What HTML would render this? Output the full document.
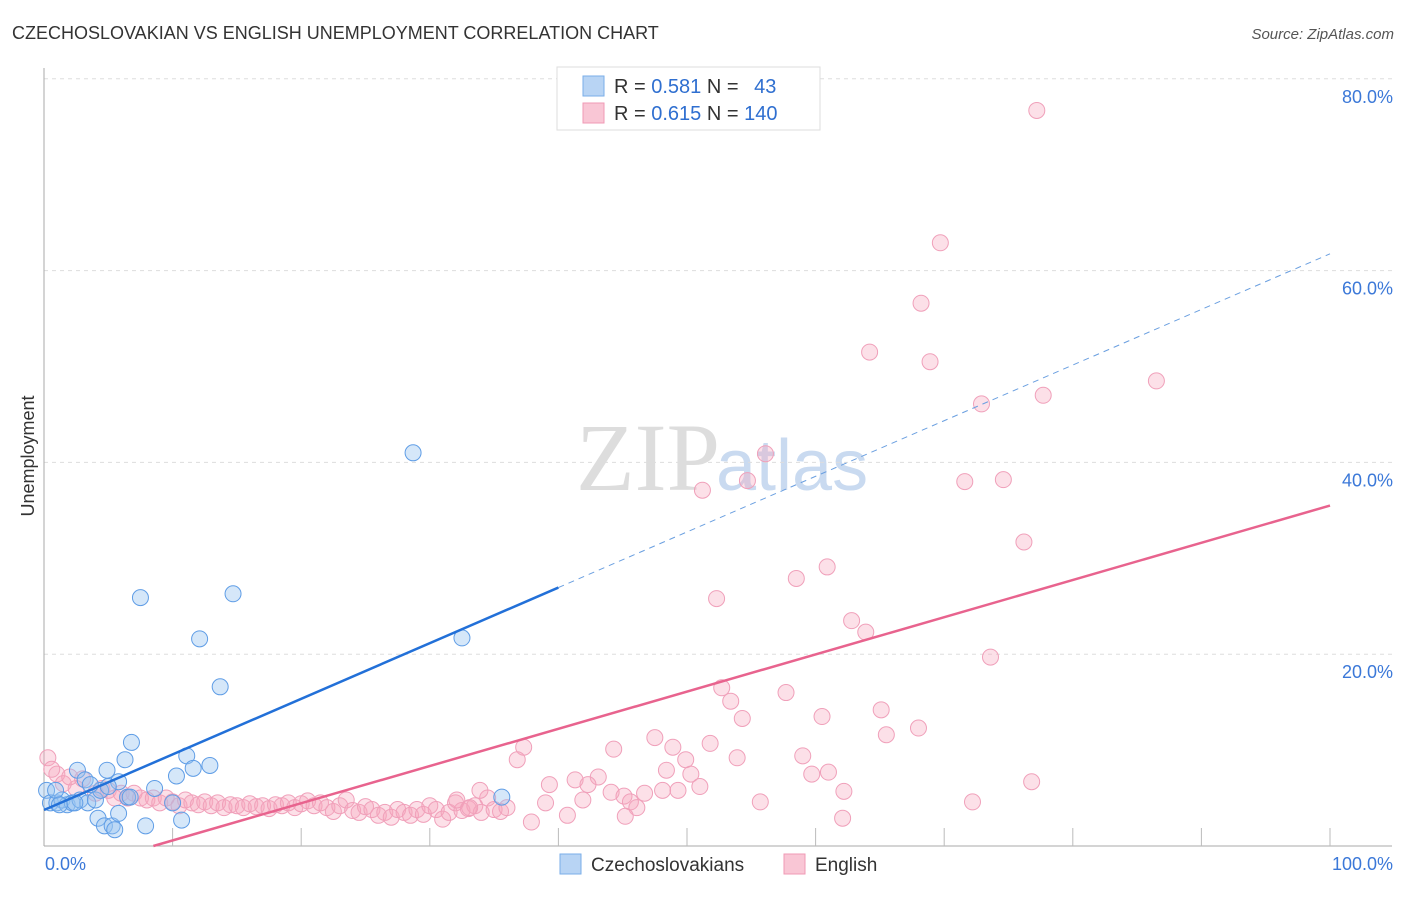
<!DOCTYPE html>
<html><head><meta charset="utf-8"><style>
body{margin:0;background:#fff;font-family:"Liberation Sans",sans-serif}
</style></head><body>
<svg id="c" width="1406" height="892" xmlns="http://www.w3.org/2000/svg" style="font-family:'Liberation Sans',sans-serif">
<text x="12" y="39" font-size="18" fill="#333">CZECHOSLOVAKIAN VS ENGLISH UNEMPLOYMENT CORRELATION CHART</text>
<text x="1394" y="39" font-size="15" fill="#555" text-anchor="end" font-style="italic">Source: ZipAtlas.com</text>
<text x="34" y="456" font-size="18" fill="#333" text-anchor="middle" transform="rotate(-90 34 456)">Unemployment</text>
<text x="720" y="490" font-size="96" fill="#ddd" text-anchor="end" font-family="Liberation Serif">ZIP</text>
<text x="716" y="490" font-size="72" fill="#c9daf0">atlas</text>
<g id="grid"></g><g id="pts"></g><g id="lines"></g>
<g>
<rect x="557" y="67" width="263" height="63" fill="#fff" stroke="#ddd"/>
<rect x="583" y="76" width="21" height="20" fill="#b8d4f4" stroke="#7aaee8"/>
<rect x="583" y="103" width="21" height="20" fill="#f9c6d5" stroke="#f09ab5"/>
<text x="614" y="93" font-size="20" fill="#333">R = <tspan fill="#2f6fd0">0.581</tspan>   N =  <tspan fill="#2f6fd0" dx="10">43</tspan></text>
<text x="614" y="120" font-size="20" fill="#333">R = <tspan fill="#2f6fd0">0.615</tspan>   N = <tspan fill="#2f6fd0">140</tspan></text>
</g>
<text x="45" y="870" font-size="18" fill="#3b78d8">0.0%</text>
<text x="1393" y="870" font-size="18" fill="#3b78d8" text-anchor="end">100.0%</text>
<g>
<rect x="560" y="854" width="21" height="20" fill="#b8d4f4" stroke="#7aaee8"/>
<text x="591" y="871" font-size="19" fill="#333">Czechoslovakians</text>
<rect x="784" y="854" width="21" height="20" fill="#f9c6d5" stroke="#f09ab5"/>
<text x="815" y="871" font-size="19" fill="#333">English</text>
</g>
</svg>
<script>
const yTicks=[20,40,60,80];
const blueX=[0.2,0.5,1.0,1.4,1.8,2.2,2.6,2.8,3.2,3.4,4.0,4.2,4.4,4.7,4.9,5.3,5.5,5.8,5.8,6.3,6.5,6.8,7.5,7.9,8.6,10.0,10.3,10.7,11.1,11.6,12.1,12.9,13.7,14.7,28.7,32.5,35.6,0.9,1.2,3.6,5.0,6.7,2.4];
const blueY=[5.8,4.5,4.5,4.8,4.3,4.5,7.9,4.8,6.9,4.5,4.8,2.9,5.8,2.1,7.9,2.1,1.7,3.4,6.7,9.0,5.1,10.8,25.9,2.1,6.0,4.5,7.3,2.7,9.4,8.1,21.6,8.4,16.6,26.3,41.0,21.7,5.1,5.8,4.3,6.4,6.2,5.1,4.5];
const pinkX=[1,1.5,2.5,3,4,4.5,5,5.5,6,6.5,7,7.5,8,8.5,9,9.5,10,10.5,11,11.5,12,12.5,13,13.5,14,14.5,15,15.5,16,16.5,17,17.5,18,18.5,19,19.5,20,20.5,21,21.5,22,22.5,23,23.5,24,24.5,25,25.5,26,26.5,27,27.5,28,28.5,29,29.5,30,30.5,31,31.5,32,32.5,33,33.5,34,34.5,35,35.5,36,0.3,0.6,2,
77.2,69.7,68.2,64.2,68.9,86.5,77.7,72.9,56.1,51.2,54.7,71.6,74.6,76.2,58.5,60.9,52.3,62.8,63.9,73.6,52.7,53.4,57.7,54.3,60.5,65.1,68.0,65.5,37.3,36.8,44.3,47.5,48.9,51.8,49.9,53.9,59.0,48.4,50.3,59.7,61.0,39.3,41.3,43.1,42.3,44.1,45.1,46.7,48.1,51.0,49.3,41.9,39.0,45.6,46.1,40.7,37.9,45.2,55.7,62.2,62.1,72.2,76.8,33.9,32.1,33.1];
const pinkY=[7.5,6.5,6,7,5.5,6,5.8,5,5.5,5,5.5,5,4.8,5,4.5,5,4.6,4.2,4.8,4.5,4.3,4.6,4.2,4.5,4.0,4.3,4.2,4.0,4.4,4.1,4.2,3.9,4.3,4.2,4.5,4.0,4.4,4.7,4.2,4.5,4.0,3.6,4.2,4.8,3.7,3.5,4.1,3.8,3.2,3.5,3.0,3.8,3.5,3.2,3.8,3.3,4.2,3.8,2.8,3.5,4.5,3.7,3.9,4.2,3.5,5.0,3.8,3.6,4.0,9.2,8.0,7.2,
76.7,62.9,56.6,51.5,50.5,48.5,47.0,46.1,40.9,37.1,38.1,38.0,38.2,31.7,27.9,29.1,25.8,23.5,22.3,19.7,16.5,15.1,16.0,13.3,13.5,14.2,12.3,11.6,10.3,9.0,10.1,11.3,10.3,10.7,9.0,9.2,9.4,7.9,7.5,7.5,7.7,6.4,6.9,7.2,6.4,5.6,5.2,5.5,5.8,6.2,5.8,4.8,4.5,4.6,4.0,3.2,2.5,3.1,4.6,5.7,2.9,4.6,6.7,5.8,4.8,4.0];
const blueFit=[3.75,0.58];
const pinkFit=[-3.3,0.388];
const NS='http://www.w3.org/2000/svg';
const X0=44,X1=1330,Y0=846,YS=9.59;
const sx=v=>X0+(X1-X0)*v/100, sy=v=>Y0-v*YS;
function mk(t,a,p){const e=document.createElementNS(NS,t);for(const k in a)e.setAttribute(k,a[k]);p.appendChild(e);return e;}
const g=document.getElementById('grid');
yTicks.forEach(t=>{
 const l=mk('line',{x1:X0,x2:1392,y1:sy(t),y2:sy(t),stroke:'#ddd','stroke-dasharray':'4,4'},g);
 
 
 const tx=mk('text',{x:1393,y:sy(t)+24,'font-size':18,fill:'#3b78d8','text-anchor':'end'},g);
 tx.textContent=t.toFixed(1)+'%';
 
 
});
const ax=mk('line',{x1:X0,x2:X0,y1:68,y2:Y0,stroke:'#aaa'},g);


const bx=mk('line',{x1:X0,x2:1392,y1:Y0,y2:Y0,stroke:'#aaa'},g);


for(let i=1;i<=10;i++){const tk=mk('line',{x1:sx(i*10),x2:sx(i*10),y1:Y0-18,y2:Y0,stroke:'#bbb'},g);
 
 }
const P=document.getElementById('pts');
pinkX.forEach((x,i)=>{const c=mk('circle',{cx:sx(x),cy:sy(pinkY[i]),r:8,fill:'rgba(245,165,190,0.35)',stroke:'#f0a0ba','stroke-width':1},P);
 
 });
blueX.forEach((x,i)=>{const c=mk('circle',{cx:sx(x),cy:sy(blueY[i]),r:8,fill:'rgba(150,195,240,0.4)',stroke:'#5f9de6','stroke-width':1},P);
 
 });
const L=document.getElementById('lines');
const bf=x=>blueFit[0]+blueFit[1]*x, pf=x=>pinkFit[0]+pinkFit[1]*x;
const l1=mk('line',{x1:sx(0),y1:sy(bf(0)),x2:sx(40),y2:sy(bf(40)),stroke:'#2270d8','stroke-width':2.5},L);


const l2=mk('line',{x1:sx(40),y1:sy(bf(40)),x2:sx(100),y2:sy(bf(100)),stroke:'#6a9fe0','stroke-width':1,'stroke-dasharray':'6,5'},L);


const x0=-pinkFit[0]/pinkFit[1];
const l3=mk('line',{x1:sx(x0),y1:sy(0),x2:sx(100),y2:sy(pf(100)),stroke:'#e8638e','stroke-width':2.5},L);


</script>
</body></html>
